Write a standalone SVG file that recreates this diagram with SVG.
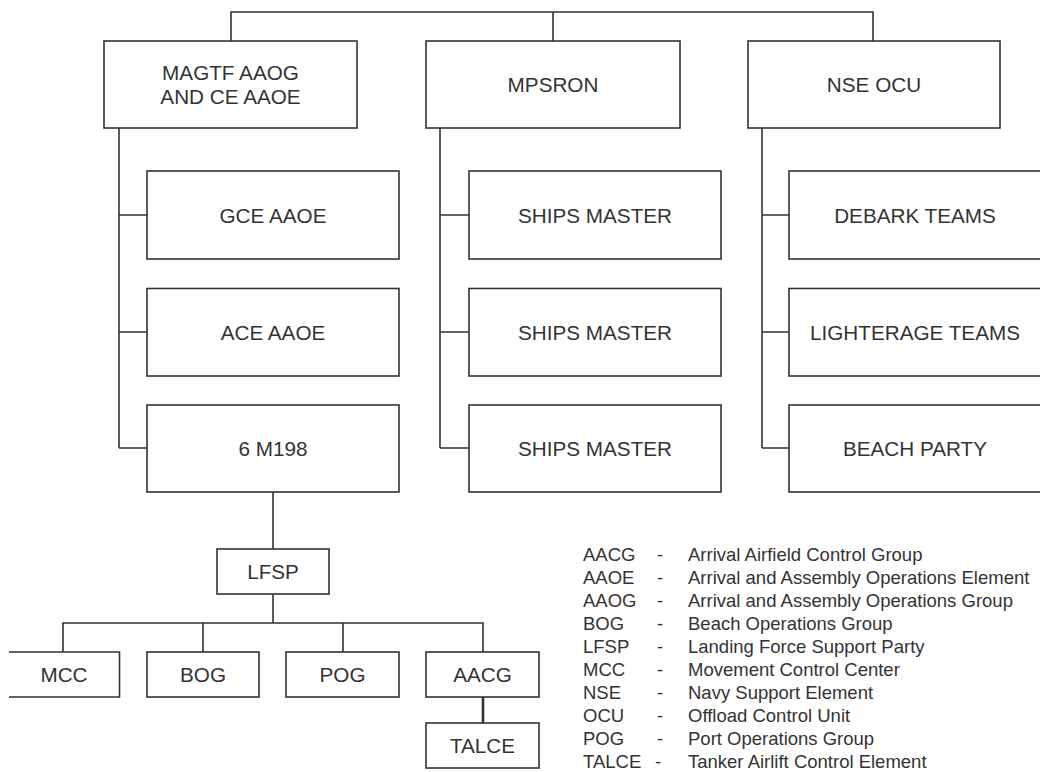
<svg xmlns="http://www.w3.org/2000/svg" width="1040" height="772" viewBox="0 0 1040 772">
<style>
.box{fill:#fff;stroke:#333;stroke-width:1.6}
.ln{fill:none;stroke:#333;stroke-width:1.6}
.t{font-family:"Liberation Sans",Arial,sans-serif;font-size:20.7px;fill:#333;text-anchor:middle}
.lg{font-family:"Liberation Sans",Arial,sans-serif;font-size:18.5px;fill:#333}
</style>
<rect width="1040" height="772" fill="#fff"/>
<g id="connectors">
<path class="ln" d="M231,41V12H873V41M553,12V41"/>
<path class="ln" d="M119,128V448M119,215H147M119,332H147M119,448H147"/>
<path class="ln" d="M440,128V448M440,215H469M440,332H469M440,448H469"/>
<path class="ln" d="M762,128V448M762,215H789M762,332H789M762,448H789"/>
<path class="ln" d="M273,492V549M273,594V623M63,652V623H483V652M203,623V652M343,623V652"/>
<path class="ln" d="M483,697V723" style="stroke-width:2.6"/>
</g>
<g id="magtf"><rect class="box" x="104" y="41" width="253" height="87"/><text class="t" x="230.5" y="80">MAGTF AAOG</text><text class="t" x="230.5" y="104">AND CE AAOE</text></g>
<g id="mpsron"><rect class="box" x="426" y="41" width="254" height="87"/><text class="t" x="553" y="92">MPSRON</text></g>
<g id="nseocu"><rect class="box" x="748" y="41" width="252" height="87"/><text class="t" x="874" y="92">NSE OCU</text></g>
<g id="gce"><rect class="box" x="147" y="171" width="252" height="88"/><text class="t" x="273" y="222.5">GCE AAOE</text></g>
<g id="ace"><rect class="box" x="147" y="288.5" width="252" height="87.5"/><text class="t" x="273" y="339.5">ACE AAOE</text></g>
<g id="m198"><rect class="box" x="147" y="405" width="252" height="87"/><text class="t" x="273" y="456">6 M198</text></g>
<g id="ships1"><rect class="box" x="469" y="171" width="252" height="88"/><text class="t" x="595" y="222.5">SHIPS MASTER</text></g>
<g id="ships2"><rect class="box" x="469" y="288.5" width="252" height="87.5"/><text class="t" x="595" y="339.5">SHIPS MASTER</text></g>
<g id="ships3"><rect class="box" x="469" y="405" width="252" height="87"/><text class="t" x="595" y="456">SHIPS MASTER</text></g>
<g id="debark"><rect class="box" x="789" y="171" width="252" height="88"/><text class="t" x="915" y="222.5">DEBARK TEAMS</text></g>
<g id="lighterage"><rect class="box" x="789" y="288.5" width="252" height="87.5"/><text class="t" x="915" y="339.5">LIGHTERAGE TEAMS</text></g>
<g id="beach"><rect class="box" x="789" y="405" width="252" height="87"/><text class="t" x="915" y="456">BEACH PARTY</text></g>
<g id="lfsp"><rect class="box" x="217" y="549" width="112" height="45"/><text class="t" x="273" y="579">LFSP</text></g>
<g id="mcc"><path class="box" d="M9,652H119.5V697H9"/><text class="t" x="64" y="682">MCC</text></g>
<g id="bog"><rect class="box" x="147" y="652" width="112" height="45"/><text class="t" x="203" y="682">BOG</text></g>
<g id="pog"><rect class="box" x="286" y="652" width="113" height="45"/><text class="t" x="342.5" y="682">POG</text></g>
<g id="aacg"><rect class="box" x="426" y="652" width="113" height="45"/><text class="t" x="482.5" y="682">AACG</text></g>
<g id="talce"><rect class="box" x="426" y="723" width="113" height="45"/><text class="t" x="482.5" y="753">TALCE</text></g>
<g id="legend" class="lg">
<text x="583" y="561">AACG</text><text x="657" y="561">-</text><text x="688" y="561">Arrival Airfield Control Group</text>
<text x="583" y="584">AAOE</text><text x="657" y="584">-</text><text x="688" y="584">Arrival and Assembly Operations Element</text>
<text x="583" y="607">AAOG</text><text x="657" y="607">-</text><text x="688" y="607">Arrival and Assembly Operations Group</text>
<text x="583" y="630">BOG</text><text x="657" y="630">-</text><text x="688" y="630">Beach Operations Group</text>
<text x="583" y="653">LFSP</text><text x="657" y="653">-</text><text x="688" y="653">Landing Force Support Party</text>
<text x="583" y="676">MCC</text><text x="657" y="676">-</text><text x="688" y="676">Movement Control Center</text>
<text x="583" y="699">NSE</text><text x="657" y="699">-</text><text x="688" y="699">Navy Support Element</text>
<text x="583" y="722">OCU</text><text x="657" y="722">-</text><text x="688" y="722">Offload Control Unit</text>
<text x="583" y="745">POG</text><text x="657" y="745">-</text><text x="688" y="745">Port Operations Group</text>
<text x="583" y="768">TALCE</text><text x="655" y="768">-</text><text x="688" y="768">Tanker Airlift Control Element</text>
</g>
</svg>
